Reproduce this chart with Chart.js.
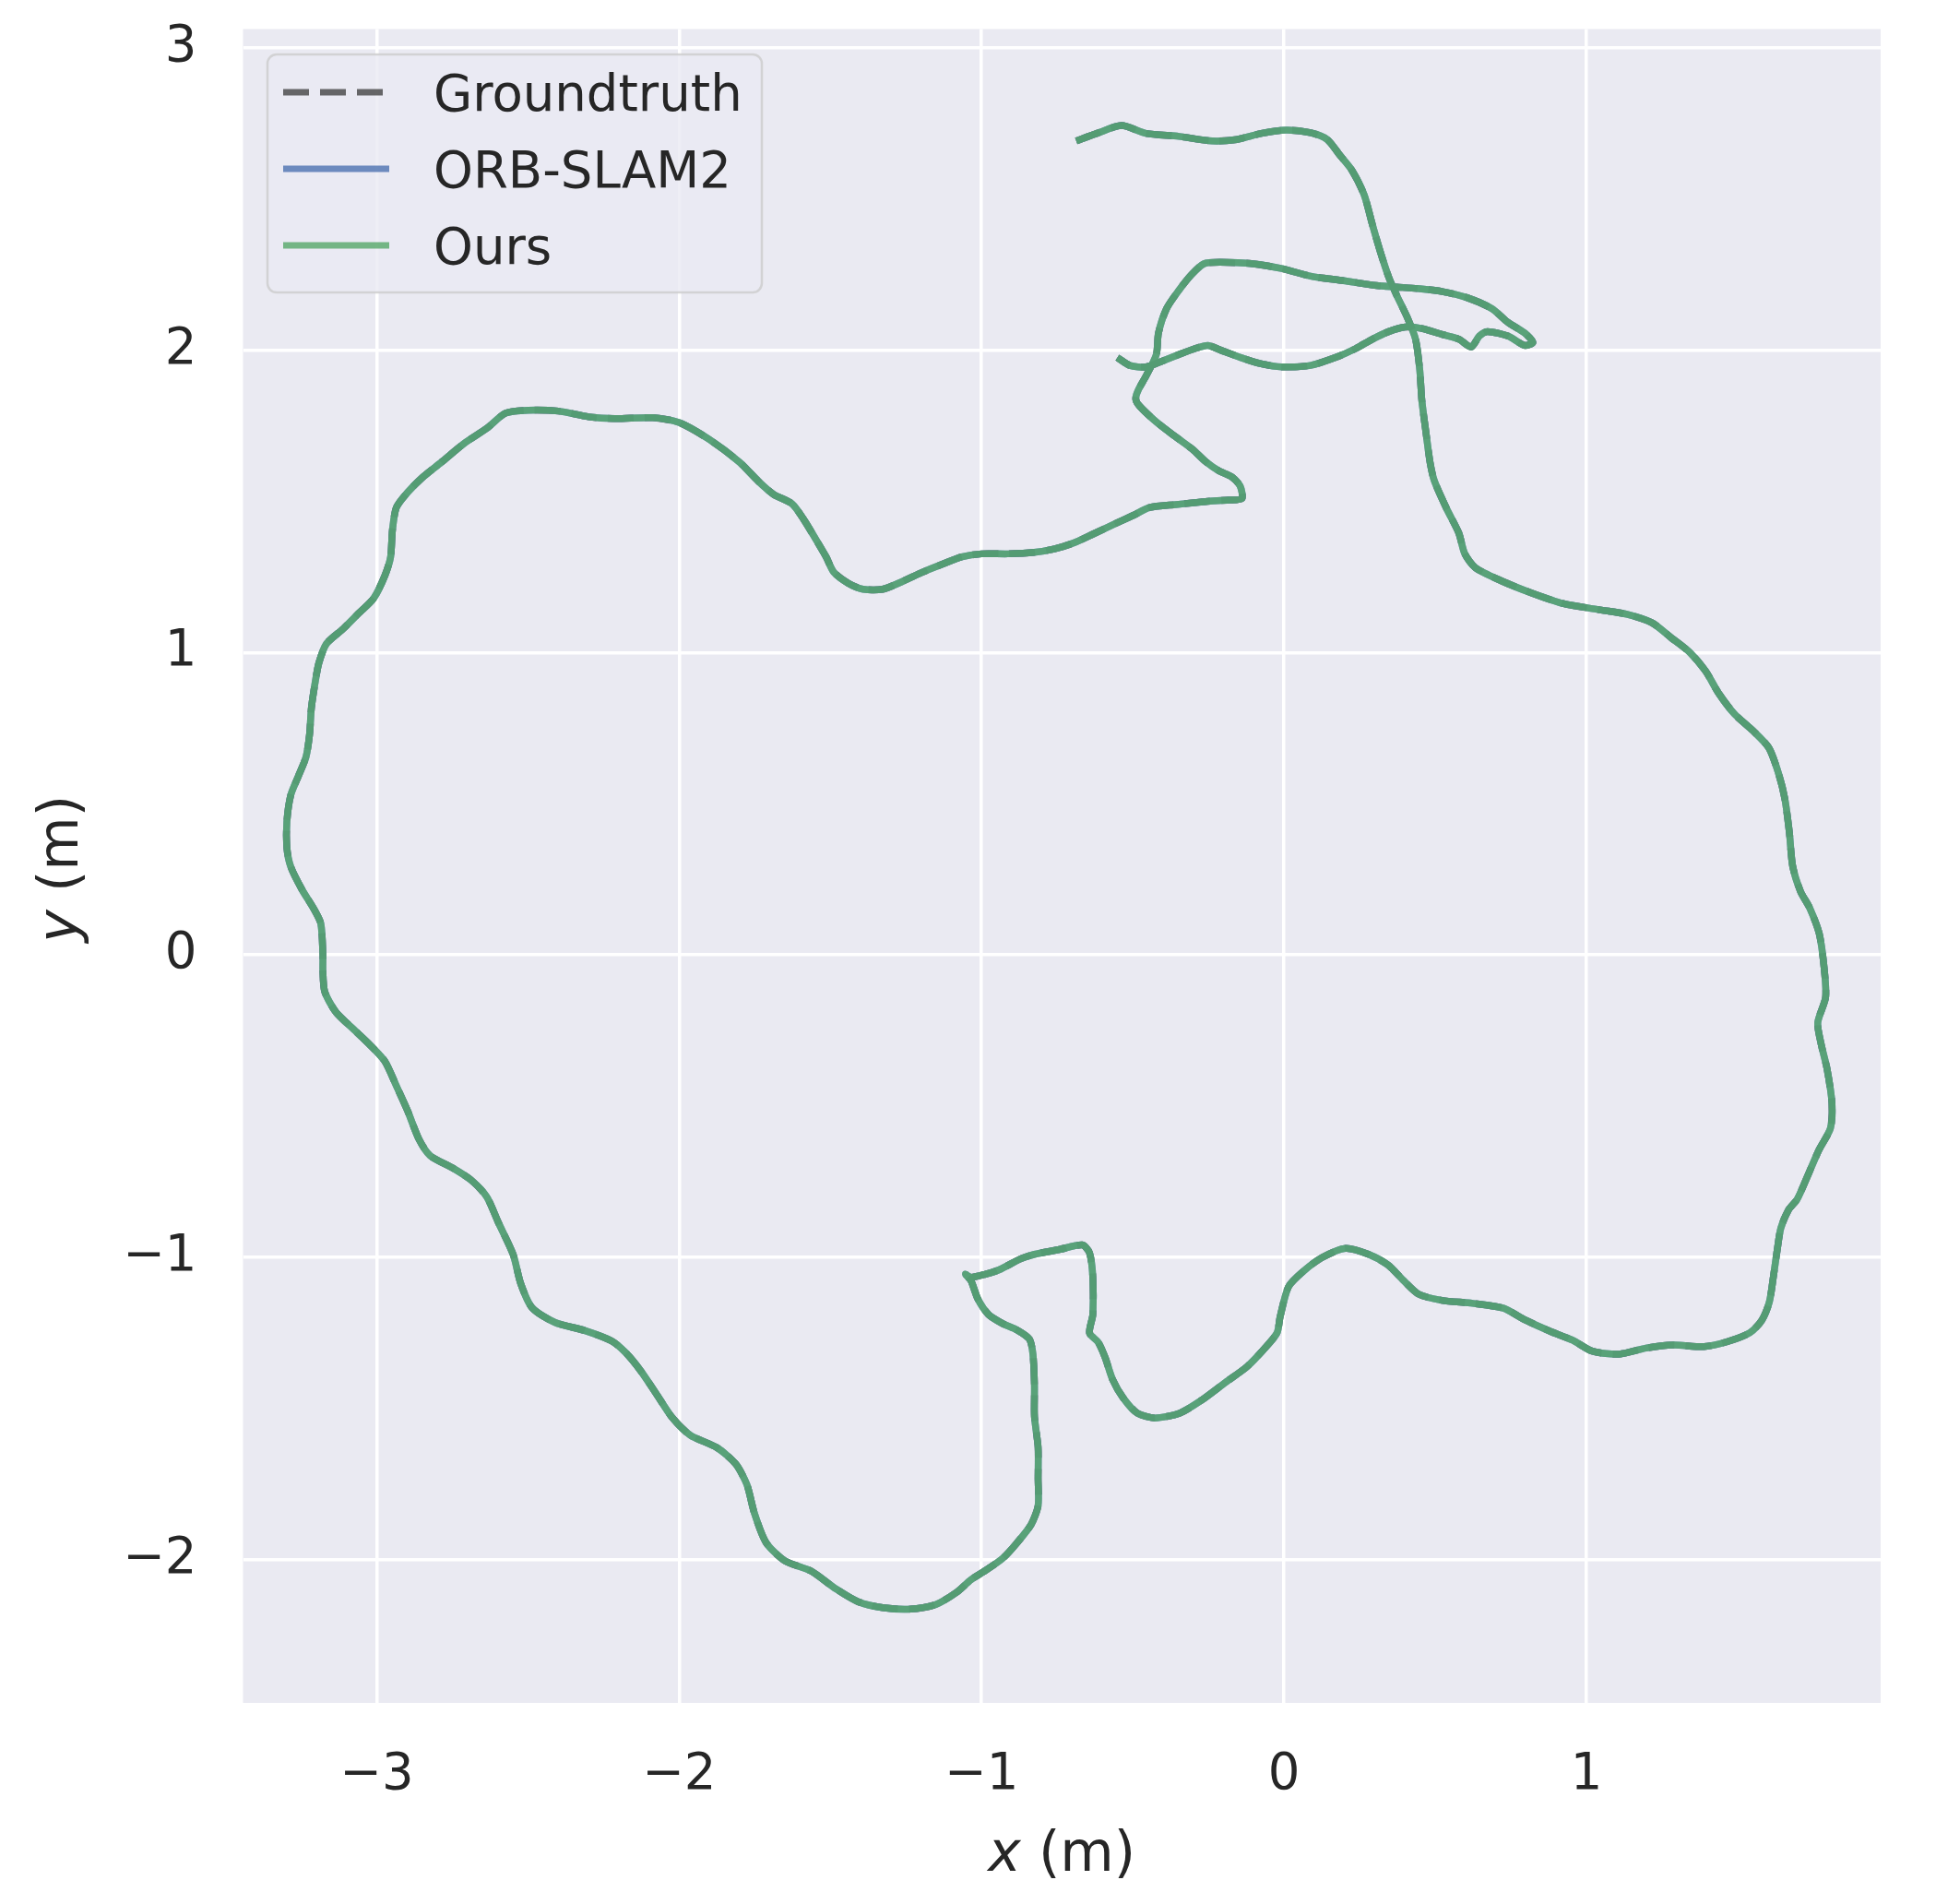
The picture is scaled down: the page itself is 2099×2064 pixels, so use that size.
<!DOCTYPE html>
<html>
<head>
<meta charset="utf-8">
<script src="https://cdn.jsdelivr.net/npm/chart.js@4.4.1/dist/chart.umd.min.js"></script>
<style>
html,body{margin:0;padding:0;background:#ffffff;}
canvas{display:block;}
</style>
</head>
<body>
<canvas id="c" width="2099" height="2064"></canvas>
<script>
// ---------------- data ----------------
const seriesNames = ['Groundtruth', 'ORB-SLAM2', 'Ours'];
const xTicks = [-3, -2, -1, 0, 1];
const yTicks = [-2, -1, 0, 1, 2, 3];
const xLabelVar = 'x', yLabelVar = 'y', axisUnit = ' (m)';

// trajectory (all three estimates overlap at this scale)
const trackX = [
-0.687,-0.619,-0.537,-0.456,-0.347,-0.238,-0.156,-0.075,0.007,0.088,
0.143,0.184,0.224,0.265,0.293,0.320,0.347,0.374,0.408,0.435,
0.449,0.456,0.469,0.483,0.497,0.537,0.578,0.598,0.633,0.716,
0.820,0.925,1.050,1.134,1.217,1.280,1.342,1.395,1.436,1.489,
1.551,1.603,1.635,1.656,1.671,1.682,1.708,1.739,1.770,1.786,
1.791,1.765,1.776,1.796,1.812,1.807,1.770,1.739,1.697,1.669,
1.643,1.631,1.618,1.605,1.580,1.541,1.465,1.389,1.287,1.197,
1.108,1.019,0.955,0.879,0.790,0.726,0.624,0.522,0.446,0.395,
0.344,0.280,0.204,0.127,0.064,0.015,-0.013,-0.023,-0.064,-0.123,
-0.193,-0.275,-0.345,-0.427,-0.485,-0.532,-0.567,-0.591,-0.614,-0.643,
-0.632,-0.632,-0.643,-0.667,-0.743,-0.825,-0.871,-0.942,-0.988,-1.035,
-1.053,-1.035,-1.012,-0.977,-0.930,-0.883,-0.842,-0.830,-0.825,-0.825,
-0.813,-0.813,-0.813,-0.836,-0.883,-0.930,-0.988,-1.035,-1.082,-1.152,
-1.234,-1.327,-1.409,-1.480,-1.564,-1.651,-1.713,-1.751,-1.776,-1.813,
-1.875,-1.963,-2.025,-2.075,-2.125,-2.175,-2.224,-2.312,-2.411,-2.486,
-2.524,-2.549,-2.599,-2.636,-2.686,-2.748,-2.823,-2.860,-2.898,-2.935,
-2.973,-3.022,-3.072,-3.135,-3.172,-3.178,-3.178,-3.185,-3.209,-3.247,
-3.284,-3.297,-3.297,-3.284,-3.259,-3.234,-3.222,-3.216,-3.203,-3.191,
-3.166,-3.110,-3.060,-3.010,-2.973,-2.954,-2.948,-2.935,-2.898,-2.848,
-2.786,-2.711,-2.636,-2.574,-2.499,-2.399,-2.299,-2.212,-2.087,-2.000,
-1.900,-1.800,-1.738,-1.688,-1.626,-1.589,-1.551,-1.514,-1.489,-1.441,
-1.392,-1.327,-1.261,-1.196,-1.131,-1.065,-1.000,-0.913,-0.826,-0.760,
-0.695,-0.630,-0.553,-0.499,-0.444,-0.357,-0.259,-0.183,-0.139,-0.145,
-0.172,-0.216,-0.259,-0.303,-0.357,-0.423,-0.477,-0.490,-0.483,-0.455,
-0.422,-0.415,-0.388,-0.347,-0.306,-0.265,-0.211,-0.102,-0.007,0.088,
0.197,0.306,0.374,0.442,0.524,0.605,0.687,0.741,0.796,0.823,
0.796,0.741,0.673,0.646,0.619,0.578,0.524,0.456,0.401,0.347,
0.293,0.238,0.170,0.088,-0.007,-0.075,-0.143,-0.211,-0.252,-0.293,
-0.347,-0.401,-0.456,-0.510,-0.551];
const trackY = [
2.691,2.716,2.742,2.716,2.706,2.691,2.696,2.716,2.727,2.718,
2.696,2.645,2.595,2.513,2.412,2.320,2.239,2.178,2.107,2.036,
1.934,1.832,1.731,1.629,1.568,1.477,1.395,1.326,1.280,1.238,
1.196,1.161,1.140,1.126,1.098,1.049,1.000,0.937,0.867,0.797,
0.741,0.685,0.601,0.517,0.406,0.294,0.210,0.154,0.070,-0.042,
-0.140,-0.224,-0.294,-0.378,-0.490,-0.573,-0.643,-0.713,-0.808,-0.842,
-0.903,-0.975,-1.066,-1.147,-1.208,-1.249,-1.279,-1.295,-1.290,-1.300,
-1.320,-1.310,-1.274,-1.244,-1.203,-1.168,-1.152,-1.142,-1.122,-1.076,
-1.025,-0.990,-0.970,-1.000,-1.046,-1.097,-1.198,-1.250,-1.301,-1.362,
-1.413,-1.474,-1.515,-1.531,-1.515,-1.464,-1.403,-1.332,-1.281,-1.250,
-1.189,-1.066,-0.985,-0.959,-0.974,-0.990,-1.005,-1.041,-1.056,-1.066,
-1.056,-1.077,-1.138,-1.189,-1.219,-1.240,-1.270,-1.321,-1.423,-1.526,
-1.628,-1.730,-1.821,-1.883,-1.944,-1.995,-2.036,-2.066,-2.107,-2.148,
-2.163,-2.158,-2.138,-2.097,-2.037,-2.003,-1.942,-1.846,-1.751,-1.683,
-1.629,-1.588,-1.527,-1.452,-1.378,-1.317,-1.276,-1.242,-1.215,-1.167,
-1.086,-0.990,-0.882,-0.800,-0.746,-0.705,-0.664,-0.610,-0.515,-0.433,
-0.352,-0.298,-0.250,-0.189,-0.121,-0.053,0.004,0.104,0.154,0.216,
0.291,0.354,0.441,0.529,0.591,0.654,0.729,0.816,0.904,0.966,
1.029,1.079,1.129,1.179,1.254,1.316,1.404,1.479,1.529,1.579,
1.629,1.691,1.741,1.791,1.801,1.798,1.779,1.773,1.776,1.760,
1.704,1.629,1.566,1.523,1.491,1.441,1.379,1.316,1.266,1.229,
1.209,1.209,1.235,1.265,1.291,1.316,1.326,1.326,1.331,1.342,
1.362,1.392,1.428,1.453,1.479,1.489,1.499,1.504,1.509,1.550,
1.580,1.601,1.631,1.672,1.712,1.763,1.814,1.837,1.865,1.916,
1.985,2.056,2.137,2.198,2.249,2.285,2.290,2.285,2.269,2.244,
2.229,2.213,2.208,2.203,2.193,2.173,2.137,2.091,2.056,2.025,
2.015,2.046,2.061,2.046,2.010,2.036,2.051,2.071,2.076,2.061,
2.036,2.005,1.975,1.949,1.944,1.954,1.975,2.000,2.015,2.005,
1.985,1.964,1.944,1.949,1.975];

// ---------------- styling ----------------
const FONT = 'DejaVu Sans';
const TEXT = '#262626';
const AX_BG = '#EAEAF2';
const X_MIN = -3.442, X_MAX = 1.973, Y_MIN = -2.473, Y_MAX = 3.061;
const colors = ['rgba(68,68,68,0.8)', 'rgba(76,114,176,0.8)', 'rgba(85,168,104,0.8)'];
const dashes = [[28, 12], [], []];
const LW = 7.5;

const toPoints = (xs, ys) => xs.map((x, i) => ({ x: x, y: ys[i] }));
const fmt = v => (v < 0 ? '\u2212' + Math.abs(v) : String(v));

const bgPlugin = {
  id: 'bg',
  beforeDraw(chart) {
    const { ctx, chartArea: a } = chart;
    ctx.save();
    ctx.fillStyle = '#ffffff';
    ctx.fillRect(0, 0, chart.width, chart.height);
    ctx.fillStyle = AX_BG;
    ctx.fillRect(a.left, a.top, a.right - a.left, a.bottom - a.top);
    ctx.restore();
  }
};

const legendPlugin = {
  id: 'boxLegend',
  afterDatasetsDraw(chart) {
    const { ctx, chartArea: a } = chart;
    const bx = a.left + 26.5, by = a.top + 27.5, bw = 536, bh = 258, r = 10;
    ctx.save();
    ctx.beginPath();
    ctx.moveTo(bx + r, by);
    ctx.arcTo(bx + bw, by, bx + bw, by + bh, r);
    ctx.arcTo(bx + bw, by + bh, bx, by + bh, r);
    ctx.arcTo(bx, by + bh, bx, by, r);
    ctx.arcTo(bx, by, bx + bw, by, r);
    ctx.closePath();
    ctx.fillStyle = 'rgba(234,234,242,0.8)';
    ctx.fill();
    ctx.strokeStyle = 'rgba(204,204,204,0.8)';
    ctx.lineWidth = 2.5;
    ctx.stroke();
    chart.data.datasets.forEach((ds, i) => {
      const yy = by + 41 + i * 83;
      ctx.beginPath();
      ctx.setLineDash(ds.borderDash || []);
      ctx.strokeStyle = ds.borderColor;
      ctx.lineWidth = 7;
      ctx.moveTo(bx + 17, yy);
      ctx.lineTo(bx + 132, yy);
      ctx.stroke();
      ctx.setLineDash([]);
      ctx.fillStyle = TEXT;
      ctx.font = '54.5px "' + FONT + '"';
      ctx.textBaseline = 'alphabetic';
      ctx.textAlign = 'left';
      ctx.fillText(ds.label, bx + 180, yy + 20);
    });
    ctx.restore();
  }
};

const axisTitlePlugin = {
  id: 'axisTitles',
  afterDraw(chart) {
    const { ctx, chartArea: a } = chart;
    const itFont = 'italic 60px "' + FONT + '"';
    const nFont = '60px "' + FONT + '"';
    const drawLabel = (v) => {
      ctx.font = itFont; const w1 = ctx.measureText(v).width;
      ctx.font = nFont; const w2 = ctx.measureText(axisUnit).width;
      const start = -(w1 + w2) / 2;
      ctx.font = itFont; ctx.fillText(v, start, 0);
      ctx.font = nFont; ctx.fillText(axisUnit, start + w1, 0);
    };
    ctx.save();
    ctx.fillStyle = TEXT;
    ctx.textBaseline = 'alphabetic';
    ctx.textAlign = 'left';
    ctx.save();
    ctx.translate((a.left + a.right) / 2, a.bottom + 182);
    drawLabel(xLabelVar);
    ctx.restore();
    ctx.save();
    ctx.translate(84, (a.top + a.bottom) / 2 + 3);
    ctx.rotate(-Math.PI / 2);
    drawLabel(yLabelVar);
    ctx.restore();
    ctx.restore();
  }
};

const tickFont = { family: FONT, size: 54.5 };

new Chart(document.getElementById('c'), {
  type: 'scatter',
  data: {
    datasets: seriesNames.map((name, i) => ({
      label: name,
      data: toPoints(trackX, trackY),
      showLine: true,
      borderColor: colors[i],
      backgroundColor: colors[i],
      borderWidth: LW,
      borderDash: dashes[i],
      pointRadius: 0,
      tension: 0.25,
      fill: false,
      order: 3 - i
    }))
  },
  options: {
    responsive: false,
    devicePixelRatio: 1,
    animation: false,
    events: [],
    layout: { padding: { top: 31.5, right: 60, left: 0, bottom: 0 } },
    plugins: { legend: { display: false }, tooltip: { enabled: false } },
    scales: {
      x: {
        type: 'linear', min: X_MIN, max: X_MAX,
        afterBuildTicks: s => { s.ticks = xTicks.map(v => ({ value: v })); },
        afterFit: s => { s.height = 218; s.paddingLeft = 0; s.paddingRight = 0; },
        grid: { color: '#ffffff', lineWidth: 3.5, drawTicks: false },
        border: { display: false },
        ticks: { font: tickFont, color: TEXT, padding: 46, callback: fmt, maxRotation: 0, autoSkip: false }
      },
      y: {
        type: 'linear', min: Y_MIN, max: Y_MAX,
        afterBuildTicks: s => { s.ticks = yTicks.map(v => ({ value: v })); },
        afterFit: s => { s.width = 263.5; s.paddingTop = 0; s.paddingBottom = 0; },
        grid: { color: '#ffffff', lineWidth: 3.5, drawTicks: false },
        border: { display: false },
        ticks: { font: tickFont, color: TEXT, padding: 50, callback: fmt, autoSkip: false }
      }
    }
  },
  plugins: [bgPlugin, legendPlugin, axisTitlePlugin]
});
</script>
</body>
</html>
